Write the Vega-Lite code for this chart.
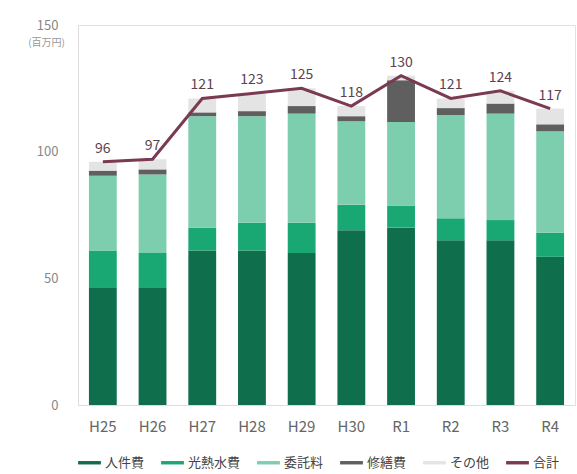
{
  "$schema": "https://vega.github.io/schema/vega-lite/v6.json",
  "width": 577,
  "height": 474,
  "autosize": {"type": "fit", "contains": "padding"},
  "padding": {"left": 27, "top": 19, "right": 2, "bottom": 4},
  "config": {
    "font": "Noto Sans CJK JP",
    "view": {"stroke": "#e2e2e2"}
  },
  "datasets": {
    "costs": [
      {"year": "H25", "item": "人件費", "ord": 1, "value": 46.5},
      {"year": "H25", "item": "光熱水費", "ord": 2, "value": 14.5},
      {"year": "H25", "item": "委託料", "ord": 3, "value": 29.5},
      {"year": "H25", "item": "修繕費", "ord": 4, "value": 2},
      {"year": "H25", "item": "その他", "ord": 5, "value": 3.5},
      {"year": "H26", "item": "人件費", "ord": 1, "value": 46.5},
      {"year": "H26", "item": "光熱水費", "ord": 2, "value": 13.5},
      {"year": "H26", "item": "委託料", "ord": 3, "value": 31},
      {"year": "H26", "item": "修繕費", "ord": 4, "value": 2},
      {"year": "H26", "item": "その他", "ord": 5, "value": 4},
      {"year": "H27", "item": "人件費", "ord": 1, "value": 61},
      {"year": "H27", "item": "光熱水費", "ord": 2, "value": 9},
      {"year": "H27", "item": "委託料", "ord": 3, "value": 44},
      {"year": "H27", "item": "修繕費", "ord": 4, "value": 1.5},
      {"year": "H27", "item": "その他", "ord": 5, "value": 5.5},
      {"year": "H28", "item": "人件費", "ord": 1, "value": 61},
      {"year": "H28", "item": "光熱水費", "ord": 2, "value": 11},
      {"year": "H28", "item": "委託料", "ord": 3, "value": 42},
      {"year": "H28", "item": "修繕費", "ord": 4, "value": 2},
      {"year": "H28", "item": "その他", "ord": 5, "value": 7},
      {"year": "H29", "item": "人件費", "ord": 1, "value": 60},
      {"year": "H29", "item": "光熱水費", "ord": 2, "value": 12},
      {"year": "H29", "item": "委託料", "ord": 3, "value": 43},
      {"year": "H29", "item": "修繕費", "ord": 4, "value": 3},
      {"year": "H29", "item": "その他", "ord": 5, "value": 7},
      {"year": "H30", "item": "人件費", "ord": 1, "value": 69},
      {"year": "H30", "item": "光熱水費", "ord": 2, "value": 10},
      {"year": "H30", "item": "委託料", "ord": 3, "value": 33},
      {"year": "H30", "item": "修繕費", "ord": 4, "value": 2},
      {"year": "H30", "item": "その他", "ord": 5, "value": 4},
      {"year": "R1", "item": "人件費", "ord": 1, "value": 70},
      {"year": "R1", "item": "光熱水費", "ord": 2, "value": 8.7},
      {"year": "R1", "item": "委託料", "ord": 3, "value": 33},
      {"year": "R1", "item": "修繕費", "ord": 4, "value": 16.5},
      {"year": "R1", "item": "その他", "ord": 5, "value": 1.8},
      {"year": "R2", "item": "人件費", "ord": 1, "value": 65},
      {"year": "R2", "item": "光熱水費", "ord": 2, "value": 8.7},
      {"year": "R2", "item": "委託料", "ord": 3, "value": 40.7},
      {"year": "R2", "item": "修繕費", "ord": 4, "value": 2.8},
      {"year": "R2", "item": "その他", "ord": 5, "value": 3.8},
      {"year": "R3", "item": "人件費", "ord": 1, "value": 65},
      {"year": "R3", "item": "光熱水費", "ord": 2, "value": 8},
      {"year": "R3", "item": "委託料", "ord": 3, "value": 42},
      {"year": "R3", "item": "修繕費", "ord": 4, "value": 4},
      {"year": "R3", "item": "その他", "ord": 5, "value": 5},
      {"year": "R4", "item": "人件費", "ord": 1, "value": 58.5},
      {"year": "R4", "item": "光熱水費", "ord": 2, "value": 9.5},
      {"year": "R4", "item": "委託料", "ord": 3, "value": 40},
      {"year": "R4", "item": "修繕費", "ord": 4, "value": 2.8},
      {"year": "R4", "item": "その他", "ord": 5, "value": 6.2}
    ],
    "total": [
      {"year": "H25", "total": 96},
      {"year": "H26", "total": 97},
      {"year": "H27", "total": 121},
      {"year": "H28", "total": 123},
      {"year": "H29", "total": 125},
      {"year": "H30", "total": 118},
      {"year": "R1", "total": 130},
      {"year": "R2", "total": 121},
      {"year": "R3", "total": 124},
      {"year": "R4", "total": 117}
    ]
  },
  "encoding": {
    "x": {
      "field": "year",
      "type": "nominal",
      "sort": ["H25", "H26", "H27", "H28", "H29", "H30", "R1", "R2", "R3", "R4"],
      "scale": {"paddingInner": 0.44, "paddingOuter": 0.22},
      "axis": {
        "title": null,
        "labelAngle": 0,
        "labelFontSize": 15,
        "labelColor": "#666666",
        "ticks": false,
        "domainColor": "#dddddd",
        "labelPadding": 14
      }
    }
  },
  "layer": [
    {
      "data": {"name": "costs"},
      "mark": {"type": "bar"},
      "encoding": {
        "y": {
          "field": "value",
          "type": "quantitative",
          "stack": "zero",
          "scale": {"domain": [0, 150], "nice": false},
          "axis": {
            "title": "(百万円)",
            "titleAngle": 0,
            "titleFontSize": 10,
            "titleFontWeight": "normal",
            "titleColor": "#999999",
            "titleX": -32,
            "titleY": 17,
            "titleAlign": "center",
            "titleBaseline": "middle",
            "values": [0, 50, 100, 150],
            "grid": false,
            "ticks": false,
            "domainColor": "#dddddd",
            "labelFontSize": 13,
            "labelColor": "#888888",
            "labelPadding": 20
          }
        },
        "color": {
          "field": "item",
          "type": "nominal",
          "scale": {
            "domain": ["人件費", "光熱水費", "委託料", "修繕費", "その他", "合計"],
            "range": ["#0f6e4b", "#19a873", "#7dcdaf", "#5f5f5f", "#e4e4e4", "#7a3a52"]
          },
          "legend": {
            "title": null,
            "orient": "bottom",
            "direction": "horizontal",
            "offset": 17,
            "symbolType": "M-1,-0.15H1V0.15H-1Z",
            "symbolSize": 520,
            "symbolStrokeWidth": 0,
            "labelFontSize": 13,
            "labelColor": "#444444",
            "labelOffset": 4,
            "columnPadding": 16
          }
        },
        "order": {"field": "ord", "type": "quantitative"}
      }
    },
    {
      "data": {"name": "total"},
      "mark": {"type": "line", "color": "#7a3a52", "strokeWidth": 3},
      "encoding": {
        "y": {"field": "total", "type": "quantitative"},
        "color": {"datum": "合計"}
      }
    },
    {
      "data": {"name": "total"},
      "mark": {"type": "text", "dy": -13, "fontSize": 14, "color": "#5a4450"},
      "encoding": {
        "y": {"field": "total", "type": "quantitative"},
        "text": {"field": "total", "type": "quantitative"}
      }
    }
  ]
}
